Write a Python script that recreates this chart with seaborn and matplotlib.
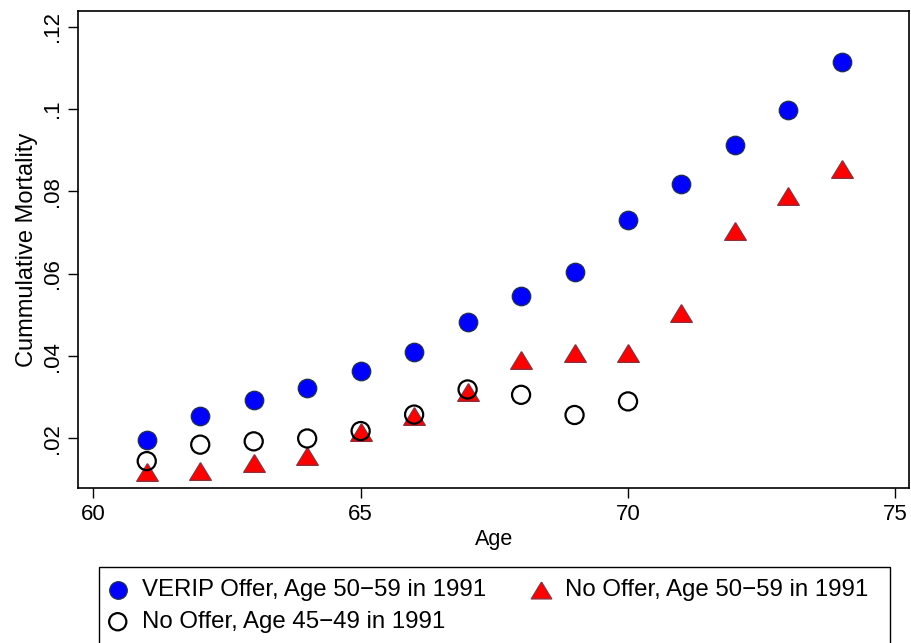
import numpy as np
import pandas as pd
import matplotlib
matplotlib.use("Agg")
import matplotlib.pyplot as plt
from matplotlib.patches import Rectangle
import seaborn as sns

# ---- data ----
age_all = [61, 62, 63, 64, 65, 66, 67, 68, 69, 70, 71, 72, 73, 74]
verip_offer = [0.0196, 0.0254, 0.0293, 0.0323, 0.0365, 0.0409, 0.0483,
               0.0547, 0.0605, 0.0731, 0.0818, 0.0912, 0.0997, 0.1114]
no_offer_5059 = [0.0119, 0.0120, 0.0140, 0.0157, 0.0215, 0.0254, 0.0312,
                 0.0390, 0.0408, 0.0408, 0.0504, 0.0704, 0.0788, 0.0855]
age_young = [61, 62, 63, 64, 65, 66, 67, 68, 69, 70]
no_offer_4549 = [0.0145, 0.0185, 0.0193, 0.0200, 0.0218, 0.0258, 0.0319,
                 0.0306, 0.0257, 0.0290]

xticks = [60, 65, 70, 75]
yticks = [0.02, 0.04, 0.06, 0.08, 0.10, 0.12]
ytick_labels = [".02", ".04", ".06", ".08", ".1", ".12"]

label_verip = "VERIP Offer, Age 50\u221259 in 1991"
label_no5059 = "No Offer, Age 50\u221259 in 1991"
label_no4549 = "No Offer, Age 45\u221249 in 1991"

sns.set_theme(style="ticks")
plt.rcParams["font.family"] = ["Liberation Sans", "DejaVu Sans"]
plt.rcParams.update({"text.color": "black", "axes.labelcolor": "black",
                     "xtick.color": "black", "ytick.color": "black"})

W, H = 911, 643
fig = plt.figure(figsize=(W / 100, H / 100), dpi=100)
ax = fig.add_axes([78.3 / W, 1 - 488.3 / H, (909.3 - 78.3) / W, (488.3 - 11) / H])

df_v = pd.DataFrame({"Age": age_all, "Mort": verip_offer})
df_n = pd.DataFrame({"Age": age_all, "Mort": no_offer_5059})
df_y = pd.DataFrame({"Age": age_young, "Mort": no_offer_4549})

tri = [(0, 0.82), (-1, -0.82), (1, -0.82), (0, 0.82)]

sns.scatterplot(data=df_v, x="Age", y="Mort", ax=ax, color="#0000ff",
                edgecolor="#1f2d5c", linewidth=1.0, s=175, marker="o",
                label=label_verip, zorder=3)
sns.scatterplot(data=df_n, x="Age", y="Mort", ax=ax, color="#ff0000",
                edgecolor="#8f2f3a", linewidth=1.0, s=240, marker=tri,
                label=label_no5059, zorder=3)
sns.scatterplot(data=df_y, x="Age", y="Mort", ax=ax, facecolor="none",
                edgecolor="black", linewidth=1.6, s=170, marker="o",
                label=label_no4549, zorder=4)

ax.set_xlim(59.72, 75.26)
ax.set_ylim(0.0079, 0.1238)
ax.set_xticks(xticks)
ax.set_xticklabels([str(t) for t in xticks], fontsize=16)
ax.set_yticks(yticks)
ax.set_yticklabels(ytick_labels, fontsize=16, rotation=90, va="center")
ax.tick_params(axis="both", direction="out", length=7, width=1.0,
               color="black", pad=4)
ax.set_xlabel("Age", fontsize=15.5, labelpad=3)
ax.set_ylabel("Cummulative Mortality", fontsize=17, labelpad=3)
for sp in ax.spines.values():
    sp.set_visible(True)
    sp.set_color("black")
    sp.set_linewidth(1.2)
ax.grid(False)

ax.get_legend().remove()
h, l = ax.get_legend_handles_labels()
order = [0, 2, 1]
leg_fs = 17.3
leg = fig.legend([h[i] for i in order], [l[i] for i in order],
                 loc="upper left",
                 bbox_to_anchor=(99 / W, 1 - 571.5 / H),
                 ncol=2, fontsize=leg_fs, frameon=False,
                 borderaxespad=0, borderpad=0.33, handlelength=0.9,
                 handletextpad=0.55, labelspacing=0.4, columnspacing=1.83,
                 markerscale=0.95)

# legend frame box (extends past bottom edge as in the reference)
fig.patches.append(Rectangle((99 / W, -0.05), (890 - 99) / W,
                             (1 - 566.7 / H) + 0.05,
                             transform=fig.transFigure, fill=False,
                             edgecolor="black", linewidth=1.0))

fig.savefig("out.png", dpi=100)
